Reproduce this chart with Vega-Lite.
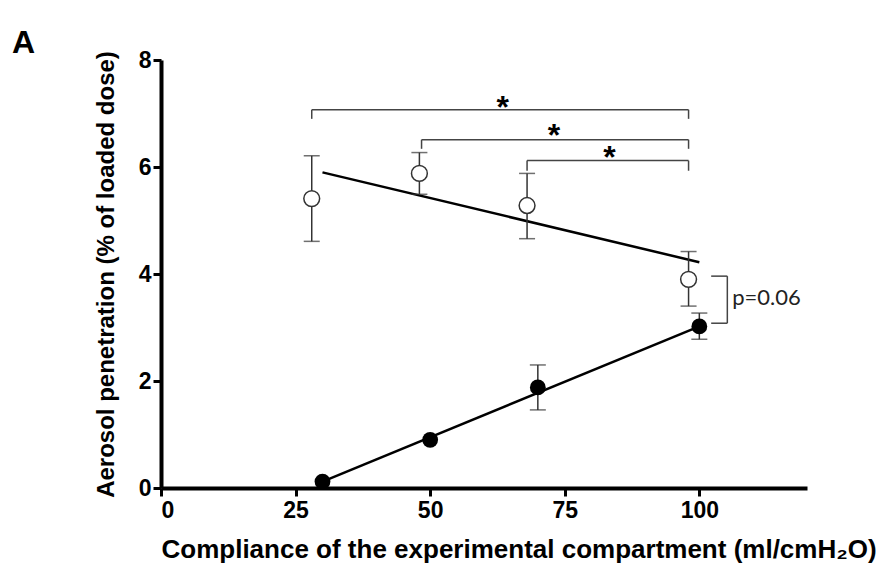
{
  "$schema": "https://vega.github.io/schema/vega-lite/v6.json",
  "width": 646,
  "height": 428,
  "autosize": {"type": "none"},
  "padding": {"left": 161, "top": 60, "right": 71, "bottom": 89},
  "background": "white",
  "config": {
    "view": {"stroke": null},
    "font": "Liberation Sans",
    "axis": {
      "grid": false,
      "domainColor": "black",
      "domainWidth": 4,
      "tickColor": "black",
      "tickWidth": 3,
      "tickSize": 8,
      "labelFont": "Liberation Sans",
      "labelFontWeight": "bold",
      "labelFontSize": 23,
      "labelColor": "black",
      "titleFont": "Liberation Sans",
      "titleFontWeight": "bold",
      "titleColor": "black"
    }
  },
  "title": {
    "text": "A",
    "anchor": "start",
    "frame": "group",
    "dx": -149,
    "offset": -36,
    "baseline": "alphabetic",
    "fontSize": 32,
    "font": "Liberation Sans",
    "fontWeight": "bold",
    "color": "black"
  },
  "datasets": {
    "means": [
      {"group": "open", "x": 28, "y": 5.41, "lo": 4.61, "hi": 6.21},
      {"group": "open", "x": 48, "y": 5.88, "lo": 5.49, "hi": 6.27},
      {"group": "open", "x": 68, "y": 5.28, "lo": 4.66, "hi": 5.88},
      {"group": "open", "x": 98, "y": 3.9, "lo": 3.4, "hi": 4.42},
      {"group": "filled", "x": 30, "y": 0.12, "lo": null, "hi": null},
      {"group": "filled", "x": 50, "y": 0.9, "lo": null, "hi": null},
      {"group": "filled", "x": 70, "y": 1.88, "lo": 1.46, "hi": 2.3},
      {"group": "filled", "x": 100, "y": 3.02, "lo": 2.78, "hi": 3.27}
    ],
    "fits": [
      {"group": "open", "x": 30, "y": 5.9},
      {"group": "open", "x": 100, "y": 4.22},
      {"group": "filled", "x": 30, "y": 0.12},
      {"group": "filled", "x": 100, "y": 3.02}
    ],
    "brackets": [
      {"xa": 28, "xb": 98, "ya": 7.07, "yb": 7.07},
      {"xa": 28, "xb": 28, "ya": 6.9, "yb": 7.07},
      {"xa": 98, "xb": 98, "ya": 6.9, "yb": 7.07},
      {"xa": 48.4, "xb": 98, "ya": 6.51, "yb": 6.51},
      {"xa": 48.4, "xb": 48.4, "ya": 6.34, "yb": 6.51},
      {"xa": 98, "xb": 98, "ya": 6.34, "yb": 6.51},
      {"xa": 68, "xb": 98, "ya": 6.12, "yb": 6.12},
      {"xa": 68, "xb": 68, "ya": 5.93, "yb": 6.12},
      {"xa": 98, "xb": 98, "ya": 5.93, "yb": 6.12},
      {"xa": 102.2, "xb": 105.2, "ya": 3.96, "yb": 3.96},
      {"xa": 105.2, "xb": 105.2, "ya": 3.08, "yb": 3.96},
      {"xa": 102.2, "xb": 105.2, "ya": 3.08, "yb": 3.08}
    ],
    "stars": [
      {"x": 63.5, "y": 7.26, "label": "*"},
      {"x": 73, "y": 6.72, "label": "*"},
      {"x": 83.3, "y": 6.31, "label": "*"}
    ],
    "notes": [
      {"x": 106.1, "y": 3.56, "label": "p=0.06"}
    ]
  },
  "layer": [
    {
      "data": {"name": "fits"},
      "mark": {"type": "line", "color": "black", "strokeWidth": 2.5},
      "encoding": {
        "x": {
          "field": "x", "type": "quantitative",
          "scale": {"domain": [0, 120], "nice": false},
          "axis": {"values": [0, 25, 50, 75, 100], "title": "Compliance of the experimental compartment (ml/cmH₂O)", "titleFontSize": 26, "titleAnchor": "start", "titleAlign": "left", "titlePadding": 14, "labelPadding": 3}
        },
        "y": {
          "field": "y", "type": "quantitative",
          "scale": {"domain": [0, 8], "nice": false},
          "axis": {"values": [0, 2, 4, 6, 8], "title": "Aerosol penetration (% of loaded dose)", "titleFontSize": 24, "titlePadding": 20, "labelPadding": 2}
        },
        "detail": {"field": "group"}
      }
    },
    {
      "data": {"name": "means"},
      "transform": [{"filter": "datum.lo != null"}],
      "mark": {"type": "rule", "color": "#333333", "strokeWidth": 1.5},
      "encoding": {
        "x": {"field": "x", "type": "quantitative"},
        "y": {"field": "lo", "type": "quantitative"},
        "y2": {"field": "hi"}
      }
    },
    {
      "data": {"name": "means"},
      "transform": [{"filter": "datum.lo != null"}],
      "mark": {"type": "tick", "orient": "horizontal", "color": "#333333", "size": 16, "thickness": 1.5},
      "encoding": {
        "x": {"field": "x", "type": "quantitative"},
        "y": {"field": "lo", "type": "quantitative"}
      }
    },
    {
      "data": {"name": "means"},
      "transform": [{"filter": "datum.lo != null"}],
      "mark": {"type": "tick", "orient": "horizontal", "color": "#333333", "size": 16, "thickness": 1.5},
      "encoding": {
        "x": {"field": "x", "type": "quantitative"},
        "y": {"field": "hi", "type": "quantitative"}
      }
    },
    {
      "data": {"name": "brackets"},
      "mark": {"type": "rule", "color": "#444444", "strokeWidth": 1.5},
      "encoding": {
        "x": {"field": "xa", "type": "quantitative"},
        "x2": {"field": "xb"},
        "y": {"field": "ya", "type": "quantitative"},
        "y2": {"field": "yb"}
      }
    },
    {
      "data": {"name": "means"},
      "transform": [{"filter": "datum.group == 'open'"}],
      "mark": {"type": "point", "shape": "circle", "filled": true, "fill": "white", "stroke": "#333333", "strokeWidth": 1.5, "size": 250, "opacity": 1},
      "encoding": {
        "x": {"field": "x", "type": "quantitative"},
        "y": {"field": "y", "type": "quantitative"}
      }
    },
    {
      "data": {"name": "means"},
      "transform": [{"filter": "datum.group == 'filled'"}],
      "mark": {"type": "point", "shape": "circle", "filled": true, "color": "black", "size": 250, "opacity": 1},
      "encoding": {
        "x": {"field": "x", "type": "quantitative"},
        "y": {"field": "y", "type": "quantitative"}
      }
    },
    {
      "data": {"name": "stars"},
      "mark": {"type": "text", "font": "Liberation Sans", "fontWeight": "bold", "fontSize": 32, "baseline": "alphabetic", "align": "center", "dy": 18, "color": "black"},
      "encoding": {
        "x": {"field": "x", "type": "quantitative"},
        "y": {"field": "y", "type": "quantitative"},
        "text": {"field": "label"}
      }
    },
    {
      "data": {"name": "notes"},
      "mark": {"type": "text", "font": "Lato", "fontSize": 22, "baseline": "middle", "align": "left", "color": "#222222"},
      "encoding": {
        "x": {"field": "x", "type": "quantitative"},
        "y": {"field": "y", "type": "quantitative"},
        "text": {"field": "label"}
      }
    }
  ]
}
